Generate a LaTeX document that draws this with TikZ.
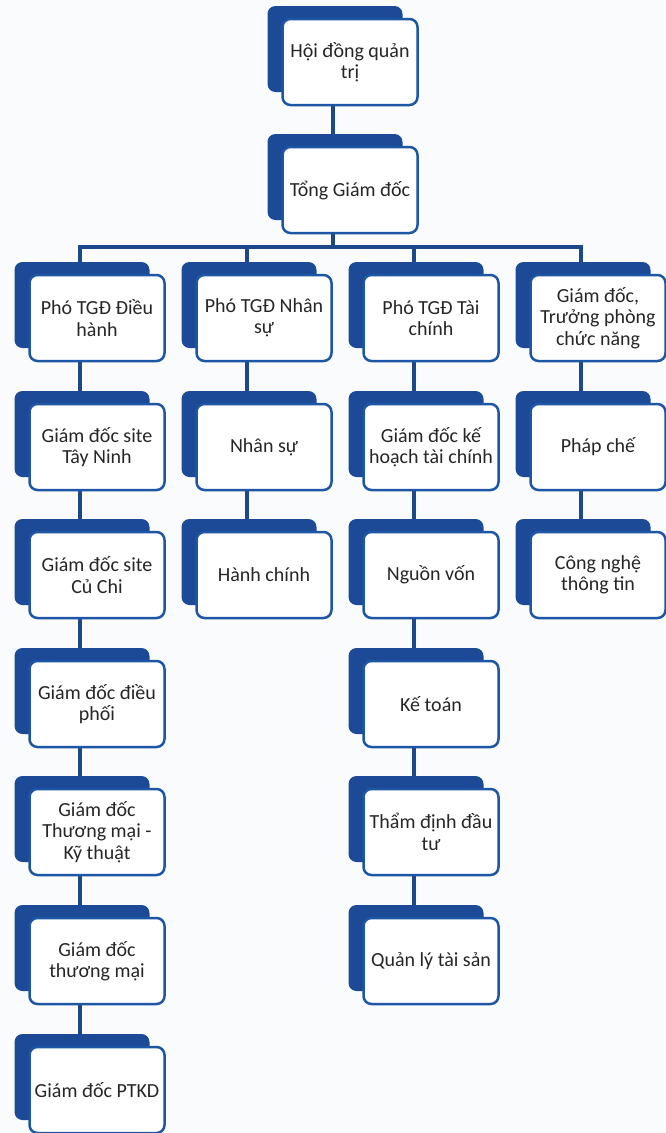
\documentclass[tikz,border=0pt]{standalone}
\usepackage{fontspec}
\setmainfont{Carlito}
\usetikzlibrary{shadows,backgrounds}
\definecolor{boxblue}{RGB}{30,86,166}
\definecolor{shadeblue}{RGB}{28,74,150}
\definecolor{linkblue}{RGB}{28,72,140}
\definecolor{paper}{RGB}{249,251,252}

\begin{document}
\begin{tikzpicture}[
x=1pt, y=-1pt,
font=\fontsize{20}{21.5}\selectfont,
post/.style={draw=boxblue, line width=2.5pt, fill=white, rounded corners=8pt,
  minimum width=135pt, minimum height=86pt, align=center, inner sep=1pt,
  text=black!85, drop shadow={shadow xshift=-15pt, shadow yshift=13pt, fill=shadeblue, opacity=1}},
link/.style={draw=linkblue, line width=4pt}
]
    \useasboundingbox (0,0) rectangle (665,1133);

    % Top of the chart
    \node[post] (hdqt) at (350,62) {Hội đồng quản\\trị};
    \node[post] (tgd) at (350,190) {Tổng Giám đốc};

    % Deputies
    \node[post] (pdh) at (97,318) {Phó TGĐ Điều\\hành};
    \node[post] (pns) at (264,318) {Phó TGĐ Nhân\\sự};
    \node[post] (ptc) at (431,318) {Phó TGĐ Tài\\chính};
    \node[post] (gdtp) at (598,318) {Giám đốc,\\Trưởng phòng\\chức năng};

    % Operations
    \node[post] (tn) at (97,447) {Giám đốc site\\Tây Ninh};
    \node[post] (cc) at (97,575) {Giám đốc site\\Củ Chi};
    \node[post] (dp) at (97,704) {Giám đốc điều\\phối};
    \node[post] (tmkt) at (97,832) {Giám đốc\\Thương mại -\\Kỹ thuật};
    \node[post] (tm) at (97,961) {Giám đốc\\thương mại};
    \node[post] (ptkd) at (97,1090) {Giám đốc PTKD};

    % Human resources
    \node[post] (ns) at (264,447) {Nhân sự};
    \node[post] (hc) at (264,575) {Hành chính};

    % Finance
    \node[post] (khtc) at (431,447) {Giám đốc kế\\hoạch tài chính};
    \node[post] (nv) at (431,575) {Nguồn vốn};
    \node[post] (kt) at (431,704) {Kế toán};
    \node[post] (tddt) at (431,832) {Thẩm định đầu\\tư};
    \node[post] (qlts) at (431,961) {Quản lý tài sản};

    % Functional
    \node[post] (pc) at (598,447) {Pháp chế};
    \node[post] (cntt) at (598,575) {Công nghệ\\thông tin};

    \begin{scope}[on background layer]
    \fill[paper] (0,0) rectangle (665,1133);
    % Connectors
    \coordinate (bus) at (333,247);
    \draw[link] ([xshift=-17pt]hdqt.center) -- ([xshift=-17pt]tgd.center) -- (bus);
    \draw[link] (bus) -| ([xshift=-17pt]pdh.center);
    \draw[link] (bus) -| ([xshift=-17pt]pns.center);
    \draw[link] (bus) -| ([xshift=-17pt]ptc.center);
    \draw[link] (bus) -| ([xshift=-17pt]gdtp.center);
    \draw[link] ([xshift=-17pt]pdh.center) -- ([xshift=-17pt]tn.center)
        -- ([xshift=-17pt]cc.center) -- ([xshift=-17pt]dp.center)
        -- ([xshift=-17pt]tmkt.center) -- ([xshift=-17pt]tm.center)
        -- ([xshift=-17pt]ptkd.center);
    \draw[link] ([xshift=-17pt]pns.center) -- ([xshift=-17pt]ns.center)
        -- ([xshift=-17pt]hc.center);
    \draw[link] ([xshift=-17pt]ptc.center) -- ([xshift=-17pt]khtc.center)
        -- ([xshift=-17pt]nv.center) -- ([xshift=-17pt]kt.center)
        -- ([xshift=-17pt]tddt.center) -- ([xshift=-17pt]qlts.center);
    \draw[link] ([xshift=-17pt]gdtp.center) -- ([xshift=-17pt]pc.center)
        -- ([xshift=-17pt]cntt.center);
    \end{scope}

\end{tikzpicture}
\end{document}
